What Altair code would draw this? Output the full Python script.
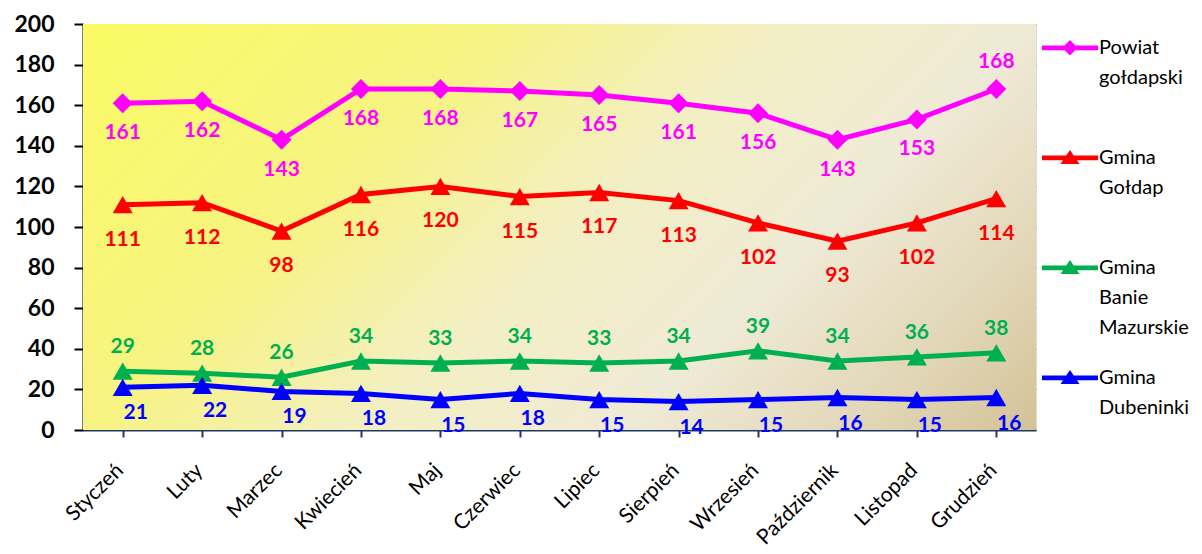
import altair as alt
import pandas as pd

months = ["Styczeń", "Luty", "Marzec", "Kwiecień", "Maj", "Czerwiec", "Lipiec",
          "Sierpień", "Wrzesień", "Październik", "Listopad", "Grudzień"]
series_names = ["Powiat gołdapski", "Gmina Gołdap", "Gmina Banie Mazurskie", "Gmina Dubeninki"]
powiat = [161, 162, 143, 168, 168, 167, 165, 161, 156, 143, 153, 168]
goldap = [111, 112, 98, 116, 120, 115, 117, 113, 102, 93, 102, 114]
banie = [29, 28, 26, 34, 33, 34, 33, 34, 39, 34, 36, 38]
dubeninki = [21, 22, 19, 18, 15, 18, 15, 14, 15, 16, 15, 16]
colors = ["#FF00FF", "#FF0000", "#00B050", "#0000FF"]
y_ticks = list(range(0, 201, 20))

rows = []
for name, vals in zip(series_names, [powiat, goldap, banie, dubeninki]):
    for m, v in zip(months, vals):
        rows.append({"month": m, "series": name, "value": v})
df = pd.DataFrame(rows)

FONT = "Lato"

# legend symbol paths (unit box, shifted down to sit on the first label line)
d = 0.7
line_part = f"M-2,{d-0.17}L2,{d-0.17}L2,{d+0.17}L-2,{d+0.17}Z"
tri_path = line_part + f"M0,{d-0.55}L0.68,{d+0.45}L-0.68,{d+0.45}Z"
dia_path = line_part + f"M0,{d-0.55}L0.55,{d}L0,{d+0.55}L-0.55,{d}Z"

gradient = {"gradient": "linear", "x1": 0, "y1": 0, "x2": 1.207, "y2": 0.514,
            "stops": [{"offset": 0, "color": "#FBFB64"},
                      {"offset": 0.3, "color": "#F7F382"},
                      {"offset": 0.5, "color": "#F3EFC2"},
                      {"offset": 0.7, "color": "#EFEAD6"},
                      {"offset": 0.86, "color": "#E2D7B8"},
                      {"offset": 1, "color": "#D3C296"}]}

x_enc = alt.X("month:N", sort=months,
              scale=alt.Scale(type="point", padding=0.5),
              axis=alt.Axis(title=None, labelAngle=-45, labelAlign="right", labelBaseline="middle",
                            labelFont=FONT, labelFontSize=21, labelColor="black", labelPadding=30,
                            labelOffset=-3, labelLimit=300,
                            domainColor="#1F3864", domainWidth=2, tickColor="#1F3864", tickWidth=2,
                            tickSize=7, grid=False))
y_enc = alt.Y("value:Q", scale=alt.Scale(domain=[0, 200], nice=False),
              axis=alt.Axis(title=None, values=y_ticks, labelFont=FONT, labelFontSize=23,
                            labelFontWeight="bold", labelColor="black", labelPadding=20,
                            domainColor="black", domainWidth=2, tickColor="black", tickWidth=2,
                            tickSize=9, grid=True, gridColor="#8C8C8C", gridDash=[3, 2],
                            gridWidth=1))
color_nolegend = alt.Color("series:N", scale=alt.Scale(domain=series_names, range=colors), legend=None)

background = alt.Chart(pd.DataFrame({"bg": [0]})).mark_rect(fill=gradient, strokeWidth=0).encode(
    x=alt.value(0), x2=alt.value({"expr": "width"}),
    y=alt.value(0), y2=alt.value({"expr": "height"}),
)

base = alt.Chart(df).encode(x=x_enc, y=y_enc)

lines = base.mark_line(strokeWidth=5).encode(color=color_nolegend, detail="series:N")

points = base.mark_point(filled=True, opacity=1, size=400).encode(
    color=color_nolegend,
    shape=alt.condition(alt.datum.series == series_names[0], alt.value("diamond"), alt.value("triangle-up")),
)

legend_def = alt.Legend(orient="none", legendX=973, legendY=0, title=None,
                        labelExpr="split(datum.label, ' ')", labelFont=FONT, labelFontSize=20,
                        labelColor="black", labelBaseline="top", labelOffset=15, labelLimit=300,
                        symbolSize=784, symbolStrokeWidth=0, gridAlign="all", rowPadding=16,
                        padding=0, symbolOpacity=1)
legend_layer = base.mark_point(filled=True, opacity=0).encode(
    color=alt.Color("series:N", scale=alt.Scale(domain=series_names, range=colors), legend=legend_def),
    shape=alt.Shape("series:N", scale=alt.Scale(domain=series_names,
                                                range=[dia_path, tri_path, tri_path, tri_path]),
                    legend=legend_def),
)

def labels(filter_expr, dx=0, dy=0):
    return base.transform_filter(filter_expr).mark_text(
        font=FONT, fontSize=21, fontWeight="bold", dx=dx, dy=dy, baseline="middle"
    ).encode(text="value:Q", color=color_nolegend)

lab_p1 = labels(f"datum.series == '{series_names[0]}' && datum.month != '{months[-1]}'", dy=30)
lab_p2 = labels(f"datum.series == '{series_names[0]}' && datum.month == '{months[-1]}'", dy=-27)
lab_g = labels(f"datum.series == '{series_names[1]}'", dy=35)
lab_b = labels(f"datum.series == '{series_names[2]}'", dy=-24)
lab_d = labels(f"datum.series == '{series_names[3]}'", dx=13, dy=26)

chart = alt.layer(background, legend_layer, lines, points, lab_p1, lab_p2, lab_g, lab_b, lab_d).properties(
    width=953, height=406,
    autosize=alt.AutoSizeParams(type="none"),
    padding={"left": 75, "top": 16, "right": 158, "bottom": 116},
).configure_view(
    strokeWidth=0,
).configure(
    background="white",
    style={"guide-label": {"lineHeight": 30}},
)

chart.save("out.html", embed_options={"renderer": "svg", "actions": False})
